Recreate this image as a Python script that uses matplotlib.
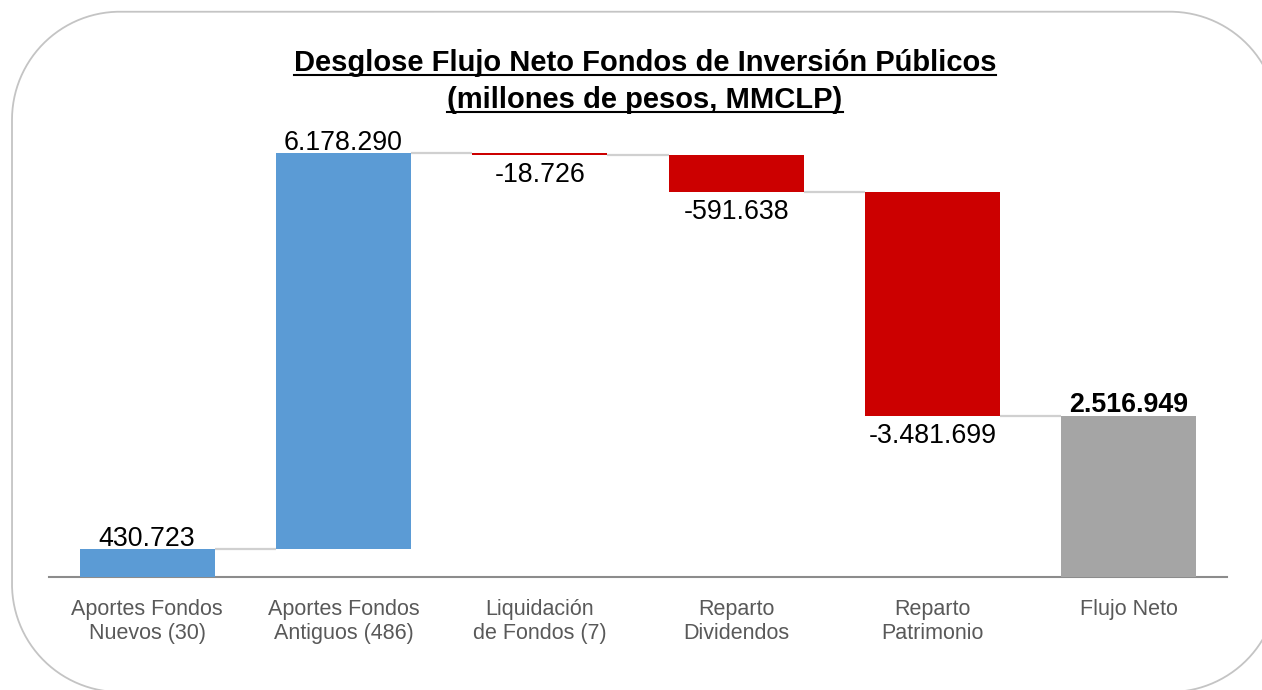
import numpy as np
import matplotlib
matplotlib.use("Agg")
import matplotlib.pyplot as plt
from matplotlib.transforms import IdentityTransform
from matplotlib.lines import Line2D

categories = ["Aportes Fondos\nNuevos (30)", "Aportes Fondos\nAntiguos (486)",
              "Liquidación\nde Fondos (7)", "Reparto\nDividendos",
              "Reparto\nPatrimonio", "Flujo Neto"]
values = [430723, 6178290, -18726, -591638, -3481699, 2516949]
is_total = [False, False, False, False, False, True]
title_lines = ["Desglose Flujo Neto Fondos de Inversión Públicos",
               "(millones de pesos, MMCLP)"]

BLUE = "#5B9BD5"
RED = "#CC0000"
GREY = "#A5A5A5"
FONT = "Liberation Sans"

W, H = 1262, 690
fig = plt.figure(figsize=(W / 100, H / 100), dpi=100)


def rounded_rect_xy(x0, y0, x1, y1, r, n=60):
    xs, ys = [], []
    corners = [((x1 - r, y0 + r), -90, 0), ((x1 - r, y1 - r), 0, 90),
               ((x0 + r, y1 - r), 90, 180), ((x0 + r, y0 + r), 180, 270)]
    for (cx, cy), a0, a1 in corners:
        t = np.radians(np.linspace(a0, a1, n))
        xs.extend(cx + r * np.cos(t))
        ys.extend(cy + r * np.sin(t))
    xs.append(xs[0])
    ys.append(ys[0])
    return xs, ys


# rounded frame (display pixels, y up)
fx, fy = rounded_rect_xy(12, H - 692, 1278, H - 11.7, 108)
fig.add_artist(Line2D(fx, fy, transform=IdentityTransform(),
                      color="#C4C4C4", linewidth=1.3))

ax_left, ax_right = 49, 1227
ax_base = 577
ppm = 64.1  # pixels per million
ymax = 7.0e6
ax_top = ax_base - ymax / 1e6 * ppm
ax = fig.add_axes([ax_left / W, (H - ax_base) / H,
                   (ax_right - ax_left) / W, (ax_base - ax_top) / H])
ax.set_xlim(-0.5, len(values) - 0.5)
ax.set_ylim(0, ymax)
ax.patch.set_alpha(0)

width = 0.688
running = 0
levels = []
for i, v in enumerate(values):
    if is_total[i]:
        bottom, height = 0, v
        color = GREY
        end = v
    else:
        end = running + v
        bottom = min(running, end)
        height = abs(v)
        color = BLUE if v > 0 else RED
    ax.bar(i, height, bottom=bottom, width=width, color=color,
           linewidth=0, zorder=3)
    label = f"{v:,}".replace(",", ".")
    if v > 0:
        ax.annotate(label, (i, bottom + height), xytext=(0, 3.5),
                    textcoords="offset pixels", ha="center", va="baseline",
                    fontsize=19.3, family=FONT, color="black",
                    fontweight="bold" if is_total[i] else "normal")
    else:
        ax.annotate(label, (i, bottom), xytext=(0, -7),
                    textcoords="offset pixels", ha="center", va="top",
                    fontsize=19.3, family=FONT, color="black")
    running = end
    levels.append(end)

# connectors
for i in range(len(values) - 1):
    lvl = levels[i]
    ax.plot([i + width / 2, i + 1 - width / 2], [lvl, lvl],
            color="#D0D0D0", linewidth=1.6, zorder=2, solid_capstyle="butt")

ax.set_xticks(range(len(categories)))
ax.set_xticklabels(categories, fontsize=15.5, family=FONT, color="#595959",
                   linespacing=1.15)
ax.tick_params(axis="x", length=0, pad=16)
ax.set_yticks([])
for s in ["top", "left", "right"]:
    ax.spines[s].set_visible(False)
ax.spines["bottom"].set_color("#8C8C8C")
ax.spines["bottom"].set_linewidth(1.5)

# title with underline
baselines = [71, 108]
texts = []
for line, bl in zip(title_lines, baselines):
    t = fig.text(0.5 * (292 + 998) / W, (H - bl) / H, line, ha="center",
                 va="baseline", fontsize=21, fontweight="bold", family=FONT,
                 color="black")
    texts.append((t, bl))

fig.canvas.draw()
r = fig.canvas.get_renderer()
for t, bl in texts:
    bb = t.get_window_extent(renderer=r)
    y = H - bl - 3.5
    fig.add_artist(Line2D([bb.x0, bb.x1], [y, y], transform=IdentityTransform(),
                          color="black", linewidth=1.5))

fig.savefig("out.png", dpi=100)
